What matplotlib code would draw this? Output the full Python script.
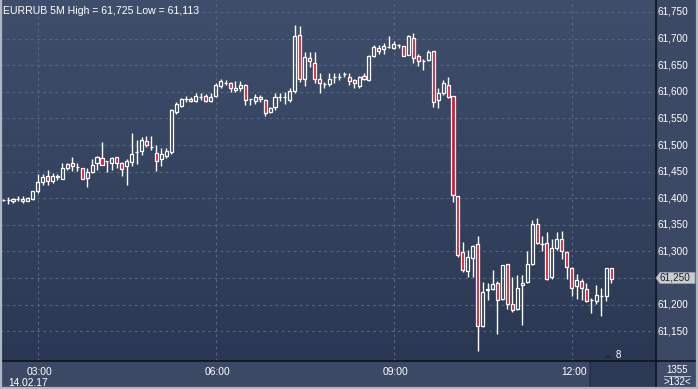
import numpy as np
import matplotlib
matplotlib.use("Agg")
import matplotlib.pyplot as plt
from matplotlib.patches import Rectangle, Polygon
import pandas as pd

# ---------------- data ----------------
opens = [61397, 61396, 61395, 61398, 61395, 61395, 61399, 61413, 61430, 61441,
         61433, 61440, 61437, 61456, 61467, 61459, 61456, 61438, 61450, 61467,
         61475, 61470, 61467, 61477, 61467, 61460, 61468, 61486, 61489, 61508,
         61497, 61485, 61473, 61480, 61487, 61563, 61574, 61586, 61586, 61583,
         61591, 61592, 61583, 61593, 61610, 61617, 61616, 61603, 61608, 61613,
         61586, 61583, 61591, 61585, 61563, 61572, 61590, 61590, 61585, 61601,
         61707, 61625, 61663, 61655, 61625, 61614, 61614, 61628, 61628, 61633,
         61627, 61622, 61610, 61630, 61622, 61668, 61682, 61680, 61684, 61682,
         61688, 61686, 61670, 61701, 61667, 61657, 61659, 61677, 61585, 61597,
         61613, 61593, 61404, 61298, 61264, 61287, 61314, 61160, 61227, 61229,
         61240, 61210, 61276, 61202, 61191, 61236, 61242, 61277, 61352, 61314,
         61315, 61251, 61306, 61323, 61298, 61268, 61235, 61244, 61229, 61209,
         61207, 61216, 61216, 61268]
highs = [61399, 61403, 61401, 61404, 61404, 61403, 61413, 61445, 61445, 61453,
         61448, 61445, 61467, 61467, 61477, 61467, 61457, 61456, 61473, 61479,
         61506, 61470, 61478, 61478, 61468, 61473, 61522, 61510, 61515, 61517,
         61517, 61500, 61494, 61495, 61567, 61580, 61588, 61593, 61591, 61597,
         61598, 61595, 61597, 61616, 61624, 61623, 61619, 61621, 61620, 61615,
         61587, 61595, 61594, 61586, 61572, 61598, 61597, 61599, 61607, 61725,
         61724, 61674, 61674, 61674, 61635, 61619, 61635, 61636, 61636, 61638,
         61636, 61625, 61630, 61635, 61669, 61688, 61688, 61691, 61705, 61696,
         61690, 61687, 61707, 61711, 61672, 61661, 61679, 61677, 61607, 61622,
         61627, 61593, 61404, 61318, 61303, 61312, 61329, 61243, 61241, 61265,
         61245, 61274, 61276, 61251, 61256, 61256, 61300, 61359, 61362, 61329,
         61336, 61323, 61336, 61338, 61300, 61271, 61257, 61248, 61240, 61212,
         61237, 61232, 61268, 61268]
lows = [61394, 61389, 61391, 61394, 61391, 61395, 61396, 61409, 61425, 61425,
        61429, 61435, 61437, 61453, 61452, 61452, 61437, 61421, 61447, 61453,
        61462, 61450, 61453, 61456, 61442, 61425, 61461, 61465, 61481, 61497,
        61490, 61452, 61460, 61475, 61484, 61558, 61572, 61581, 61580, 61581,
        61585, 61581, 61581, 61590, 61607, 61613, 61600, 61599, 61602, 61576,
        61576, 61578, 61581, 61555, 61560, 61566, 61582, 61578, 61580, 61597,
        61619, 61610, 61647, 61616, 61597, 61607, 61610, 61616, 61622, 61627,
        61613, 61607, 61607, 61622, 61620, 61665, 61672, 61672, 61682, 61680,
        61682, 61667, 61669, 61655, 61649, 61641, 61657, 61572, 61569, 61594,
        61588, 61392, 61290, 61262, 61251, 61252, 61113, 61158, 61209, 61227,
        61145, 61209, 61191, 61187, 61190, 61162, 61240, 61275, 61314, 61301,
        61246, 61249, 61303, 61285, 61248, 61216, 61210, 61209, 61205, 61184,
        61201, 61178, 61206, 61241]
closes = [61396, 61396, 61399, 61398, 61398, 61400, 61413, 61431, 61440, 61432,
          61442, 61442, 61456, 61465, 61460, 61459, 61437, 61450, 61463, 61477,
          61463, 61470, 61475, 61467, 61454, 61470, 61484, 61486, 61510, 61500,
          61497, 61470, 61483, 61489, 61566, 61577, 61586, 61587, 61582, 61592,
          61591, 61583, 61591, 61613, 61621, 61617, 61607, 61608, 61613, 61585,
          61586, 61591, 61587, 61561, 61569, 61590, 61590, 61590, 61602, 61705,
          61625, 61665, 61657, 61625, 61616, 61614, 61625, 61628, 61628, 61633,
          61621, 61616, 61627, 61624, 61667, 61684, 61677, 61686, 61684, 61690,
          61688, 61668, 61704, 61664, 61657, 61657, 61674, 61581, 61597, 61616,
          61590, 61406, 61294, 61265, 61289, 61310, 61160, 61223, 61230, 61238,
          61209, 61274, 61202, 61189, 61232, 61240, 61276, 61351, 61315, 61314,
          61248, 61306, 61323, 61300, 61270, 61232, 61246, 61231, 61207, 61209,
          61218, 61216, 61268, 61249]

start_time = "2017-02-14 02:25"
tick_labels = ["03:00", "06:00", "09:00", "12:00"]
date_label = "14.02.17"
price_levels = [61150, 61200, 61250, 61300, 61350, 61400, 61450, 61500,
                61550, 61600, 61650, 61700, 61750]
title = "EURRUB 5M High = 61,725 Low = 61,113"
last_price = "61,250"

# ---------------- layout ----------------
W, H = 698, 389
fig = plt.figure(figsize=(W / 100, H / 100), dpi=100)
fig.patch.set_facecolor("#3b4965")

def fx(x):
    return x / W

def fy(y):
    return 1 - y / H

PLOT_R, PLOT_B = 655, 361
ax = fig.add_axes([0, fy(PLOT_B), fx(PLOT_R), PLOT_B / H])
n = len(opens)
times = pd.date_range(start_time, periods=n, freq="5min").strftime("%H:%M")

spacing = 4.944
x_left = 7 - 37.7 / spacing
ax.set_xlim(x_left, x_left + PLOT_R / spacing)
Y0, Y1 = 61094.0, 61772.6
ax.set_ylim(Y0, Y1)
ax.set_axis_off()

# gradient background
grad = np.linspace(0, 1, 256).reshape(-1, 1)
top = np.array([0x3f, 0x4e, 0x6b]) / 255
bot = np.array([0x2a, 0x38, 0x53]) / 255
img = top[None, None, :] * (1 - grad[:, :, None]) + bot[None, None, :] * grad[:, :, None]
ax.imshow(img, extent=[ax.get_xlim()[0], ax.get_xlim()[1], Y0, Y1],
          aspect="auto", origin="upper", zorder=0)

grid_col = "#566583"
for lv in price_levels:
    ax.axhline(lv, color=grid_col, lw=0.8, ls=(0, (2.5, 3)), zorder=1)
tick_idx = [int(np.where(times == t)[0][0]) for t in tick_labels]
for t in tick_idx:
    ax.axvline(t, color=grid_col, lw=0.8, ls=(0, (2.5, 3)), zorder=1)

red = "#e3152e"
bw = 0.62
for i in range(n):
    o, h, l, c = opens[i], highs[i], lows[i], closes[i]
    btop, bbot = max(o, c), min(o, c)
    ax.vlines(i, btop, h, color="white", lw=1.0, zorder=2)
    ax.vlines(i, l, bbot, color="white", lw=1.0, zorder=2)
    fc = red if c < o else "none"
    ax.add_patch(Rectangle((i - bw / 2, bbot), bw, btop - bbot,
                           facecolor=fc, edgecolor="white", lw=0.9, zorder=3))

# ---------------- texts ----------------
font = "Liberation Sans"
fig.text(fx(3), fy(11), title, color="white", fontsize=7.6, family=font,
         va="center", ha="left")

for lv in price_levels:
    y_px = 12 + (61750 - lv) * 0.532
    if lv == 61250:
        continue
    fig.text(fx(658), fy(y_px), f"{lv:,}", color="white", fontsize=7.2,
             family=font, va="center", ha="left")

# current price marker
y_lp = 12 + (61750 - 61250) * 0.532
poly = Polygon([(fx(656), fy(y_lp)), (fx(660), fy(y_lp - 5.5)), (fx(695), fy(y_lp - 5.5)),
                (fx(695), fy(y_lp + 5.5)), (fx(660), fy(y_lp + 5.5))],
               closed=True, transform=fig.transFigure, facecolor="#c9ccd2",
               edgecolor="#9aa0aa", lw=0.6, zorder=5)
fig.patches.append(poly)
fig.text(fx(659), fy(y_lp), last_price, color="#222222", fontsize=7.2,
         family=font, va="center", ha="left", zorder=6)

# bottom panel
fig.patches.append(Rectangle((fx(589), fy(387)), fx(66), 26 / H,
                             transform=fig.transFigure, facecolor="#2c3a56",
                             edgecolor="none", zorder=1))
fig.add_artist(plt.Line2D([fx(589.5), fx(589.5)], [fy(386), fy(362)], color="#25314a",
                          lw=1.0, transform=fig.transFigure))
fig.patches.append(Rectangle((fx(656), fy(387)), fx(40), 26 / H,
                             transform=fig.transFigure, facecolor="#3f4d6a",
                             edgecolor="none", zorder=1))
for t, lab in zip(tick_idx, tick_labels):
    xp = 37.7 + (t - 7) * spacing
    fig.text(fx(xp + 2), fy(372), lab, color="white", fontsize=7.4, family=font,
             va="center", ha="center")
fig.text(fx(28), fy(383), date_label, color="white", fontsize=7.4, family=font,
         va="center", ha="center")

fig.text(fx(618), fy(355), "8", color="white", fontsize=7, family=font,
         va="center", ha="center")
fig.patches.append(Polygon([(fx(605), fy(358)), (fx(611), fy(358)), (fx(608), fy(355))],
                           closed=True, transform=fig.transFigure,
                           facecolor="#1c2639", edgecolor="none", zorder=5))

fig.text(fx(677), fy(370), "1355", color="white", fontsize=7, family=font,
         va="center", ha="center")
fig.add_artist(plt.Line2D([fx(664), fx(690)], [fy(376), fy(376)], color="#cfd4dc",
                          lw=0.6, transform=fig.transFigure))
fig.text(fx(677), fy(382), ">132<", color="white", fontsize=7, family=font,
         va="center", ha="center")

# separators and border
sep = "#0e131c"
fig.add_artist(plt.Line2D([0, 1], [fy(361), fy(361)], color=sep, lw=1.2,
                          transform=fig.transFigure))
fig.add_artist(plt.Line2D([fx(655.5), fx(655.5)], [0, 1], color=sep, lw=1.2,
                          transform=fig.transFigure))
border = "#aeb7c3"
for xs, ys in [([fx(0.8), fx(0.8)], [0, 1]), ([fx(697.2), fx(697.2)], [0, 1]),
               ([0, 1], [fy(388.2), fy(388.2)])]:
    fig.add_artist(plt.Line2D(xs, ys, color=border, lw=1.6, transform=fig.transFigure))

fig.savefig("out.png", dpi=100, facecolor=fig.get_facecolor())
